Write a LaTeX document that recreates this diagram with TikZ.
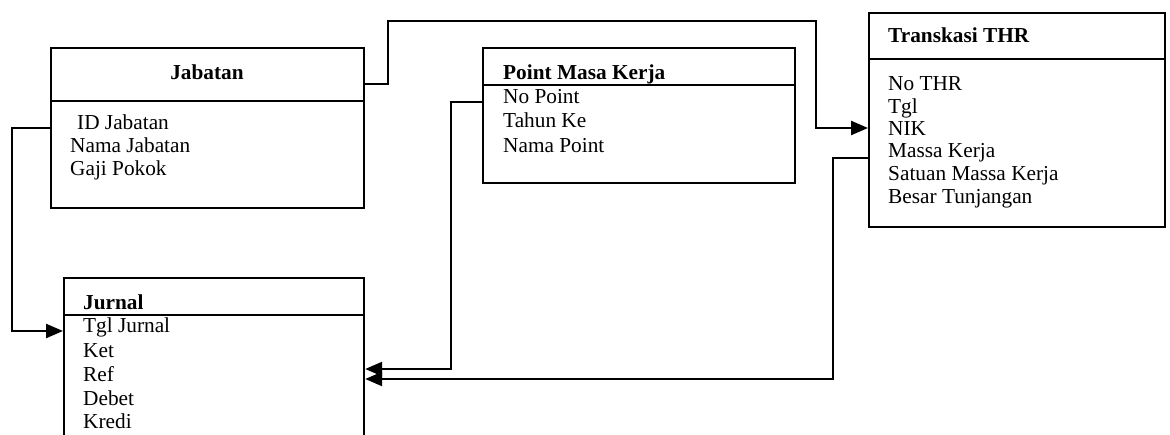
\documentclass[tikz,border=0pt]{standalone}
\usepackage{fontspec}
\setmainfont{Liberation Serif}
\usetikzlibrary{arrows.meta}
\begin{document}
\begin{tikzpicture}[x=1pt,y=-1pt,
  box/.style={draw,line width=2.2pt,rectangle,inner sep=0pt,anchor=north west},
  divline/.style={line width=2.2pt},
  conn/.style={line width=2.4pt,-{Triangle[length=17pt,width=14pt]}},
  fld/.style={anchor=base west,inner sep=0pt,font=\fontsize{21.3}{24}\selectfont},
  ttl/.style={anchor=base west,inner sep=0pt,font=\fontsize{21.3}{24}\selectfont\bfseries}]
\useasboundingbox (0,0) rectangle (1170,434);
\clip (0,0) rectangle (1170,434);
% boxes
\node[box,minimum width=313pt,minimum height=160pt] (jab) at (50,47) {};
\draw[divline] (jab.west |- 0,101) -- (jab.east |- 0,101);
\node[box,minimum width=312pt,minimum height=135pt] (pmk) at (482,47) {};
\draw[divline] (pmk.west |- 0,85) -- (pmk.east |- 0,85);
\node[box,minimum width=296pt,minimum height=214pt] (thr) at (868,12) {};
\draw[divline] (thr.west |- 0,59) -- (thr.east |- 0,59);
\node[box,minimum width=300pt,minimum height=200pt] (jur) at (63,277) {};
\draw[divline] (jur.west |- 0,315) -- (jur.east |- 0,315);
% texts
\node[ttl,anchor=base] (jabT) at (207,79) {Jabatan};
\node[fld] (jab1) at (77,129) {ID Jabatan};
\node[fld] (jab2) at (70,152) {Nama Jabatan};
\node[fld] (jab3) at (70,175) {Gaji Pokok};
\node[ttl] (pmkT) at (503,79) {Point Masa Kerja};
\node[fld] (pmk1) at (503,103) {No Point};
\node[fld] (pmk2) at (503,127) {Tahun Ke};
\node[fld] (pmk3) at (503,152) {Nama Point};
\node[ttl] (thrT) at (888,42) {Transkasi THR};
\node[fld] (thr1) at (888,90) {No THR};
\node[fld] (thr2) at (888,113) {Tgl};
\node[fld] (thr3) at (888,135) {NIK};
\node[fld] (thr4) at (888,157) {Massa Kerja};
\node[fld] (thr5) at (888,180) {Satuan Massa Kerja};
\node[fld] (thr6) at (888,203) {Besar Tunjangan};
\node[ttl] (jurT) at (83,309) {Jurnal};
\node[fld] (jur1) at (83,332) {Tgl Jurnal};
\node[fld] (jur2) at (83,357) {Ket};
\node[fld] (jur3) at (83,381) {Ref};
\node[fld] (jur4) at (83,405) {Debet};
\node[fld] (jur5) at (83,428) {Kredi};
% connectors
\draw[conn] (jab.east |- 0,84) -- (388,84) |- (816,21) |- (thr.west |- 0,128);
\draw[conn] (jab.west |- 0,128) -| (12,331) -- (jur.west |- 0,331);
\draw[conn] (pmk.west |- 0,102) -| (451,369) -- (jur.east |- 0,369);
\draw[conn] (thr.west |- 0,158) -| (833,379) -- (jur.east |- 0,379);
\end{tikzpicture}
\end{document}
